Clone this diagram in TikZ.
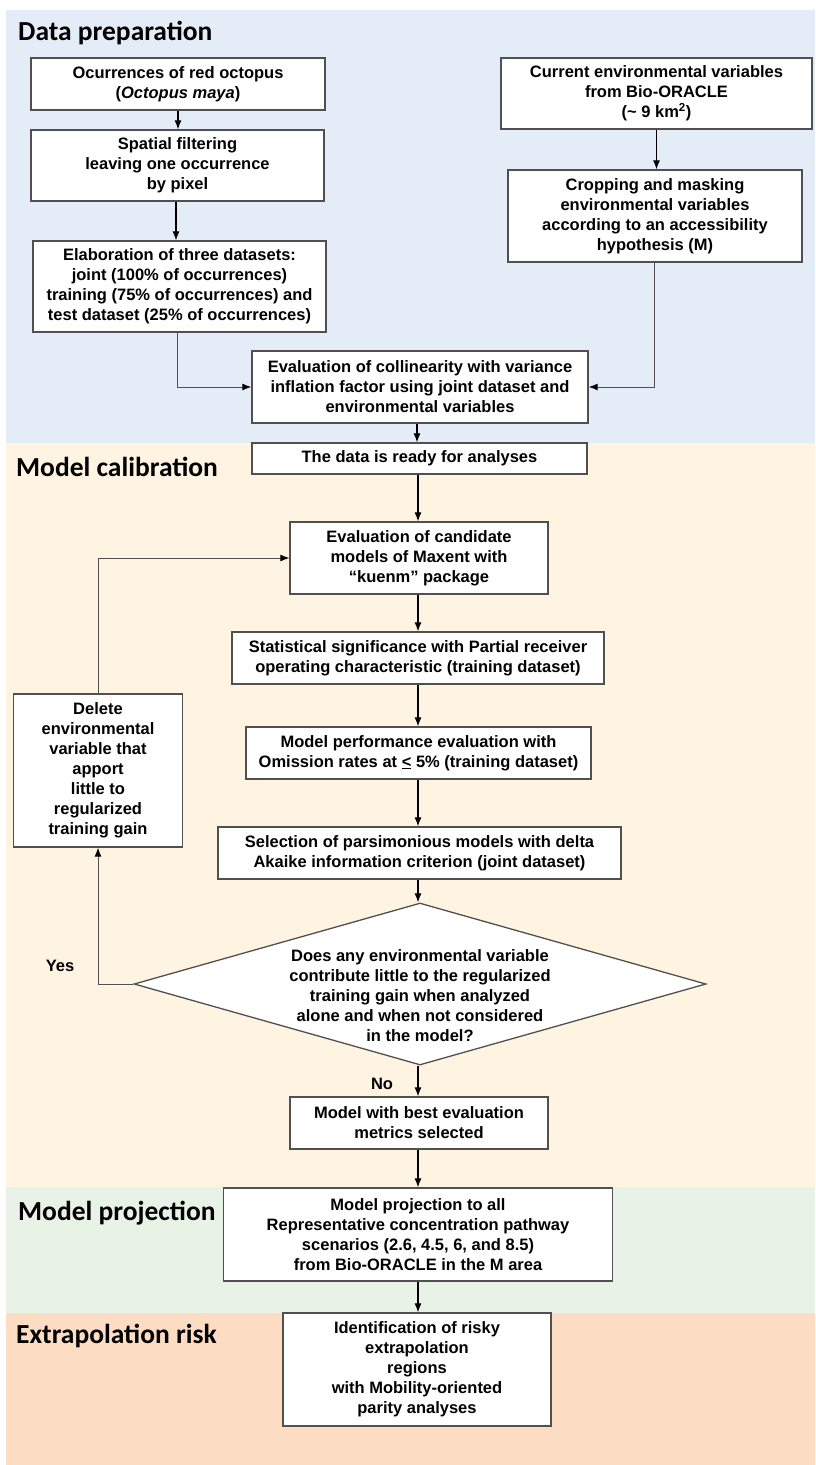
\documentclass[tikz,border=0pt]{standalone}
\usepackage{fontspec}
\setmainfont{Liberation Sans}
\newfontfamily\titlefont{Carlito}
\usetikzlibrary{arrows.meta,calc,shapes.geometric}
\definecolor{bgblue}{RGB}{228,236,247}
\definecolor{bgcream}{RGB}{254,244,225}
\definecolor{bggreen}{RGB}{233,242,230}
\definecolor{bgpeach}{RGB}{253,220,196}
\definecolor{boxgray}{RGB}{80,80,80}
\begin{document}
\begin{tikzpicture}[x=1pt,y=-1pt,
  box/.style={draw=boxgray,line width=1.3pt,fill=white,align=center,inner sep=0pt,
    font=\bfseries\fontsize{16.5}{20}\selectfont},
  arr/.style={-{Latex[length=9pt,width=7pt]},line width=1.1pt,draw=black},
  thinarr/.style={-{Latex[length=9pt,width=7pt,black]},line width=1pt,draw=boxgray},
  sec/.style={anchor=west,inner sep=0pt,font=\titlefont\bfseries\fontsize{27.5}{31}\selectfont},
  lbl/.style={inner sep=0pt,font=\bfseries\fontsize{16.5}{20}\selectfont}]
\useasboundingbox (0,0) rectangle (815,1465);
\fill[white] (0,0) rectangle (815,1465);
% section backgrounds
\fill[bgblue] (6,10) rectangle (815,443);
\fill[bgcream] (6,443) rectangle (815,1187);
\fill[bggreen] (6,1187) rectangle (815,1313);
\fill[bgpeach] (6,1313) rectangle (815,1465);
% section titles
\node[sec] (t1) at (18,33) {Data preparation};
\node[sec] (t2) at (16,467) {Model calibration};
\node[sec] (t3) at (18,1213) {Model projection};
\node[sec] (t4) at (16,1336) {Extrapolation risk};
% boxes
\node[box,minimum width=294pt,minimum height=52pt] (occ) at (178,84)
  {Ocurrences of red octopus\\(\textit{Octopus maya})};
\node[box,minimum width=293pt,minimum height=71pt] (spat) at (177.5,165.5)
  {Spatial filtering\\leaving one occurrence\\by pixel};
\node[box,minimum width=293pt,minimum height=91pt] (elab) at (179.5,286.5)
  {Elaboration of three datasets:\\joint (100\% of occurrences)\\training (75\% of occurrences) and\\test dataset (25\% of occurrences)};
\node[box,minimum width=311pt,minimum height=71pt] (cur) at (656.5,93.5)
  {Current environmental variables\\from Bio-ORACLE\\(\textasciitilde{} 9 km\textsuperscript{2})};
\node[box,minimum width=294pt,minimum height=92pt] (crop) at (655,216)
  {Cropping and masking\\environmental variables\\according to an accessibility\\hypothesis (M)};
\node[box,minimum width=336pt,minimum height=72pt] (coll) at (420,387)
  {Evaluation of collinearity with variance\\inflation factor using joint dataset and\\environmental variables};
\node[box,minimum width=335pt,minimum height=31pt] (ready) at (419.5,458.5)
  {The data is ready for analyses};
\node[box,minimum width=258pt,minimum height=72pt] (cand) at (419,558)
  {Evaluation of candidate\\models of Maxent with\\“kuenm” package};
\node[box,minimum width=372pt,minimum height=52pt] (stat) at (418,658)
  {Statistical significance with Partial receiver\\operating characteristic (training dataset)};
\node[box,minimum width=345pt,minimum height=52pt] (perf) at (418.5,753)
  {Model performance evaluation with\\Omission rates at \underline{<} 5\% (training dataset)};
\node[box,minimum width=403pt,minimum height=52pt] (sel) at (419.5,853)
  {Selection of parsimonious models with delta\\Akaike information criterion (joint dataset)};
\node[draw=boxgray,line width=1.3pt,fill=white,shape=diamond,inner sep=0pt,
  minimum width=572pt,minimum height=162pt] (dia) at (420,984) {};
\node[lbl,align=center] (dq) at (420,996)
  {Does any environmental variable\\contribute little to the regularized\\training gain when analyzed\\alone and when not considered\\in the model?};
\node[box,minimum width=169pt,minimum height=153pt] (del) at (98,770.5)
  {Delete\\environmental\\variable that\\apport\\little to\\regularized\\training gain};
\node[box,minimum width=258pt,minimum height=52pt] (best) at (419,1123)
  {Model with best evaluation\\metrics selected};
\node[box,minimum width=389pt,minimum height=93pt] (proj) at (418,1234.5)
  {Model projection to all\\Representative concentration pathway\\scenarios (2.6, 4.5, 6, and 8.5)\\from Bio-ORACLE in the M area};
\node[box,minimum width=268pt,minimum height=113pt] (ident) at (417,1369.5)
  {Identification of risky\\extrapolation\\regions\\with Mobility-oriented\\parity analyses};
\node[lbl] (yes) at (60,966) {Yes};
\node[lbl] (no) at (382,1084) {No};
% connectors
\draw[arr] (occ.south) -- (occ.south |- spat.north);
\draw[arr] ([xshift=-1.5pt]spat.south) -- ([xshift=-1.5pt]spat.south |- elab.north);
\draw[thinarr] ([xshift=-2.5pt]elab.south) |- (coll.west);
\draw[arr] (cur.south) -- (cur.south |- crop.north);
\draw[thinarr] ([xshift=-1pt]crop.south) |- (coll.east);
\draw[arr] ([xshift=-3pt]coll.south) -- ([xshift=-3pt]coll.south |- ready.north);
\draw[arr] ([xshift=-1.5pt]ready.south) -- ([xshift=-1.5pt]ready.south |- cand.north);
\draw[arr] ([xshift=-1pt]cand.south) -- ([xshift=-1pt]cand.south |- stat.north);
\draw[arr] (stat.south) -- (stat.south |- perf.north);
\draw[arr] ([xshift=-0.5pt]perf.south) -- ([xshift=-0.5pt]perf.south |- sel.north);
\draw[arr] ([xshift=-1.5pt]sel.south) -- ([xshift=-1.5pt]sel.south |- dia.north);
\draw[arr] ([xshift=-2pt]dia.south) -- ([xshift=-2pt]dia.south |- best.north);
\draw[arr] ([xshift=-1pt]best.south) -- ([xshift=-1pt]best.south |- proj.north);
\draw[arr] (proj.south) -- (proj.south |- ident.north);
\draw[thinarr] (dia.west) -| (del.south);
\draw[thinarr] (del.north) |- (cand.west);
\end{tikzpicture}
\end{document}
